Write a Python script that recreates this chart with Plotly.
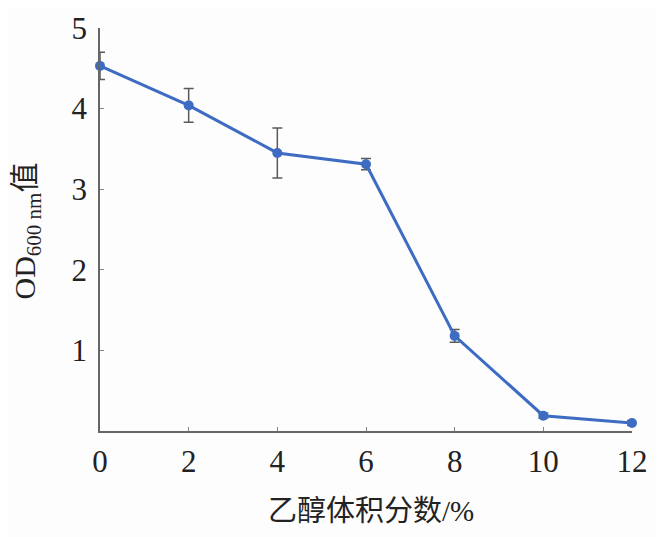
import plotly.graph_objects as go

ethanol = [0, 2, 4, 6, 8, 10, 12]
od600 = [4.53, 4.04, 3.45, 3.31, 1.18, 0.19, 0.10]
od_err = [0.17, 0.21, 0.31, 0.07, 0.08, 0.03, 0.03]
x_ticks = [0, 2, 4, 6, 8, 10, 12]
y_ticks = [1, 2, 3, 4, 5]

serif = "Liberation Serif, Times New Roman, serif"
cjk = "Liberation Serif, Noto Sans CJK SC, serif"

fig = go.Figure()
fig.add_trace(go.Scatter(
    x=ethanol, y=od600,
    mode="lines+markers",
    line=dict(color="#3d6cc2", width=3),
    marker=dict(color="#3d6cc2", size=10),
    error_y=dict(type="data", array=od_err, visible=True,
                 color="#5a5a5a", thickness=1.5, width=5),
    cliponaxis=False,
    showlegend=False,
))

fig.update_layout(
    width=664, height=537,
    margin=dict(l=92, r=40, t=20, b=114, autoexpand=False),
    paper_bgcolor="#fdfdfd",
    plot_bgcolor="#fdfdfd",
    font=dict(family=serif, size=24, color="#222222"),
    annotations=[
        dict(text="OD<sub>600 nm</sub>值", xref="paper", yref="paper",
             x=0, y=0.5, xanchor="center", yanchor="middle",
             xshift=-74, yshift=-2, textangle=-90, showarrow=False,
             font=dict(family=cjk, size=30, color="#222222")),
        dict(text="乙醇体积分数/%", xref="paper", yref="paper",
             x=0.5, y=0, xanchor="center", yanchor="middle",
             xshift=5, yshift=-80, showarrow=False,
             font=dict(family=cjk, size=29, color="#222222")),
    ],
)
fig.update_xaxes(
    range=[0, 12], tickvals=x_ticks, ticktext=[str(v) for v in x_ticks],
    showgrid=False, zeroline=False, automargin=False,
    showline=True, linecolor="#666666", linewidth=1.5,
    ticks="inside", ticklen=4, tickcolor="#888888",
    ticklabelstandoff=2, ticklabeloverflow="allow",
    tickfont=dict(family=serif, size=31, color="#222222"),
)
fig.update_yaxes(
    range=[0, 5], tickvals=y_ticks, ticktext=[str(v) for v in y_ticks],
    showgrid=False, zeroline=False, automargin=False,
    showline=True, linecolor="#666666", linewidth=1.5,
    ticks="inside", ticklen=4, tickcolor="#888888",
    ticklabelstandoff=5, ticklabeloverflow="allow",
    tickfont=dict(family=serif, size=31, color="#222222"),
)

fig.write_html("out.html")
